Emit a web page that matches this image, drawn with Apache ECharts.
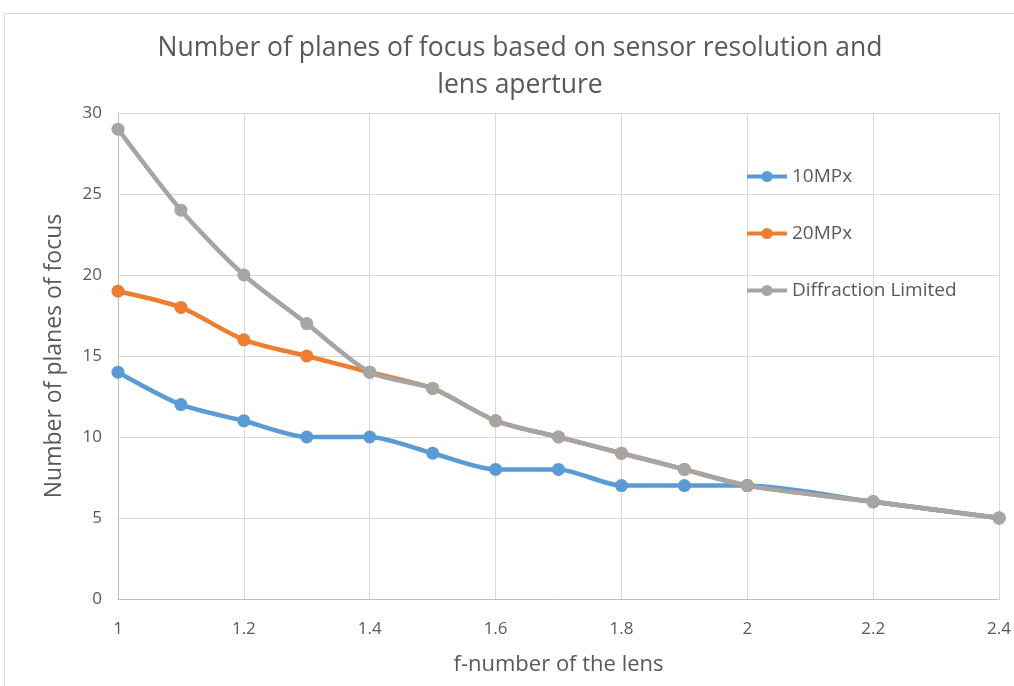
<!DOCTYPE html>
<html>
<head>
<meta charset="utf-8">
<script src="https://cdn.jsdelivr.net/npm/echarts@6/dist/echarts.min.js"></script>
<style>
  html, body { margin: 0; padding: 0; background: #ffffff; }
  #chart { width: 1014px; height: 686px; }
</style>
</head>
<body>
<div id="chart"></div>
<script>
// f-numbers of the lens
const fNumbers = [1.0, 1.1, 1.2, 1.3, 1.4, 1.5, 1.6, 1.7, 1.8, 1.9, 2.0, 2.2, 2.4];
// number of planes of focus per series
const mp10 = [14, 12, 11, 10, 10, 9, 8, 8, 7, 7, 7, 6, 5];
const mp20 = [19, 18, 16, 15, 14, 13, 11, 10, 9, 8, 7, 6, 5];
const diffraction = [29, 24, 20, 17, 14, 13, 11, 10, 9, 8, 7, 6, 5];
const seriesNames = ['10MPx', '20MPx', 'Diffraction Limited'];
const seriesColors = ['#5B9BD5', '#ED7D31', '#A5A5A5'];

const FONT = '"Open Sans", "Noto Sans", sans-serif';
const TEXT = '#595959';

function pairs(ys) {
  return fNumbers.map((x, i) => [x, ys[i]]);
}

function lineSeries(name, ys, color) {
  return {
    name: name,
    type: 'line',
    data: pairs(ys),
    smooth: 0.25,
    symbol: 'circle',
    symbolSize: 13,
    lineStyle: { width: 4.5, color: color },
    itemStyle: { color: color },
    emphasis: { disabled: true }
  };
}

const chart = echarts.init(document.getElementById('chart'), null, { renderer: 'canvas' });
chart.setOption({
  animation: false,
  backgroundColor: '#ffffff',
  graphic: [{
    type: 'rect',
    shape: { x: 4.5, y: 13.5, width: 1020, height: 700 },
    style: { fill: 'none', stroke: '#d9d9d9', lineWidth: 1 },
    silent: true
  }],
  title: {
    text: 'Number of planes of focus based on sensor resolution and\nlens aperture',
    left: 515,
    textAlign: 'center',
    top: 25,
    textStyle: {
      fontFamily: FONT,
      fontSize: 26.5,
      fontWeight: 'normal',
      color: TEXT,
      lineHeight: 37
    }
  },
  legend: {
    orient: 'vertical',
    left: 740,
    top: 162,
    itemGap: 38,
    itemWidth: 40,
    itemHeight: 14,
    data: seriesNames,
    lineStyle: { width: 4 },
    textStyle: { fontFamily: FONT, fontSize: 19, color: TEXT }
  },
  grid: { left: 118, right: 11, top: 113, bottom: 87, containLabel: false },
  xAxis: {
    type: 'value',
    min: 1,
    max: 2.4,
    interval: 0.2,
    name: 'f-number of the lens',
    nameLocation: 'middle',
    nameGap: 55,
    nameTextStyle: { fontFamily: FONT, fontSize: 22, color: TEXT },
    axisLine: { show: true, lineStyle: { color: '#bfbfbf', width: 1 } },
    axisTick: { show: false },
    splitLine: { show: true, lineStyle: { color: '#d9d9d9', width: 1 } },
    axisLabel: {
      fontFamily: FONT, fontSize: 17, color: TEXT, margin: 22,
      formatter: v => String(+v.toFixed(1))
    }
  },
  yAxis: {
    type: 'value',
    min: 0,
    max: 30,
    interval: 5,
    name: 'Number of planes of focus',
    nameLocation: 'middle',
    nameGap: 52,
    nameTextStyle: { fontFamily: FONT, fontSize: 23, color: TEXT },
    axisLine: { show: true, lineStyle: { color: '#bfbfbf', width: 1 } },
    axisTick: { show: false },
    splitLine: { show: true, lineStyle: { color: '#d9d9d9', width: 1 } },
    axisLabel: { fontFamily: FONT, fontSize: 17, color: TEXT, margin: 16 }
  },
  series: [
    lineSeries(seriesNames[0], mp10, seriesColors[0]),
    lineSeries(seriesNames[1], mp20, seriesColors[1]),
    lineSeries(seriesNames[2], diffraction, seriesColors[2])
  ]
});
</script>
</body>
</html>
